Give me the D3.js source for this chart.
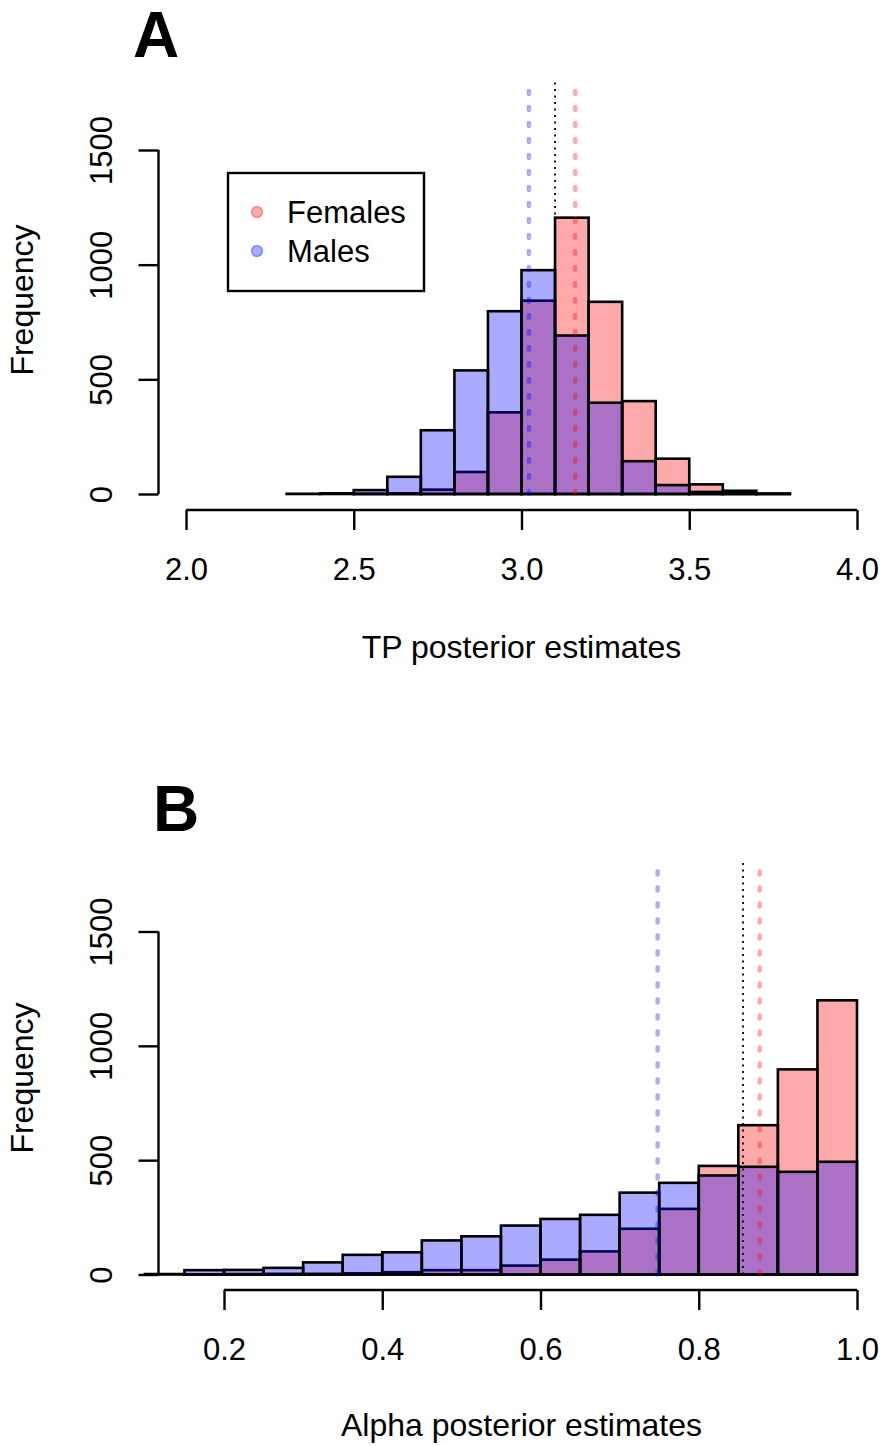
<!DOCTYPE html>
<html>
<head>
<meta charset="utf-8">
<script src="https://cdn.jsdelivr.net/npm/d3@7"></script>
<style>
  body { margin: 0; background: #fff; }
  svg { display: block; }
  text { font-family: "Liberation Sans", Arial, Helvetica, sans-serif; fill: #000; }
</style>
</head>
<body>
<div class="chart"></div>
<script>
// bin edges and counts
var tpBreaks = [2.3, 2.4, 2.5, 2.6, 2.7, 2.8, 2.9, 3.0, 3.1, 3.2, 3.3, 3.4, 3.5, 3.6, 3.7, 3.8];
var tpFemales = [0, 0, 1, 3, 19, 96, 356, 843, 1205, 838, 405, 154, 42, 14, 2];
var tpMales = [1, 3, 17, 75, 278, 539, 797, 976, 691, 398, 143, 39, 9, 3, 1];
var tpTicks = [2.0, 2.5, 3.0, 3.5, 4.0];
var tpMeans = { males: 3.022, all: 3.10, females: 3.16 };

var alphaBreaks = [0.10, 0.15, 0.20, 0.25, 0.30, 0.35, 0.40, 0.45, 0.50, 0.55, 0.60, 0.65, 0.70, 0.75, 0.80, 0.85, 0.90, 0.95, 1.00];
var alphaFemales = [0, 1, 2, 3, 3, 5, 10, 19, 19, 39, 65, 101, 200, 287, 475, 653, 897, 1199];
var alphaMales = [2, 19, 20, 29, 53, 86, 97, 149, 167, 214, 243, 261, 358, 401, 433, 471, 449, 493];
var alphaTicks = [0.2, 0.4, 0.6, 0.8, 1.0];
var alphaMeans = { males: 0.748, all: 0.856, females: 0.877 };

var freqTicks = [0, 500, 1000, 1500];
var lineTop = 1800;

var red = "rgba(255,0,0,0.333)";
var blue = "rgba(0,0,255,0.333)";

var svg = d3.select(".chart").append("svg")
  .attr("width", 883)
  .attr("height", 1446);

function drawPanel(p) {
  var x = d3.scaleLinear().domain(p.xDomain).range(p.xRange);
  var y = d3.scaleLinear().domain([0, 1500]).range(p.yRange);
  var g = svg.append("g");

  // panel letter
  g.append("text")
    .attr("x", p.letterX).attr("y", p.letterY)
    .style("font-size", "64px").style("font-weight", "bold")
    .text(p.letter);

  // females first, males drawn over them
  [[p.females, red], [p.males, blue]].forEach(function(s) {
    g.append("g").selectAll("rect")
      .data(s[0])
      .enter().append("rect")
      .attr("x", function(d, i) { return x(p.breaks[i]); })
      .attr("width", function(d, i) { return x(p.breaks[i + 1]) - x(p.breaks[i]); })
      .attr("y", function(d) { return y(d); })
      .attr("height", function(d) { return y(0) - y(d); })
      .attr("fill", s[1])
      .attr("stroke", "#000")
      .attr("stroke-width", 2.6);
  });

  // mean lines
  var lines = [
    { v: p.means.males, col: blue, w: 4.5, dash: "3,13", cap: "round" },
    { v: p.means.all, col: "#000", w: 1.8, dash: "2,4.5", cap: "butt" },
    { v: p.means.females, col: red, w: 4.5, dash: "3,13", cap: "round" }
  ];
  g.selectAll(".mean")
    .data(lines)
    .enter().append("path")
    .attr("class", "mean")
    .attr("d", function(d) { return "M" + x(d.v) + "," + y(0) + "V" + y(lineTop); })
    .attr("stroke", function(d) { return d.col; })
    .attr("stroke-width", function(d) { return d.w; })
    .attr("stroke-dasharray", function(d) { return d.dash; })
    .attr("stroke-linecap", function(d) { return d.cap; })
    .attr("fill", "none");

  // x axis
  var xa = g.append("g")
    .attr("transform", "translate(0," + p.axisY + ")")
    .call(d3.axisBottom(x).tickValues(p.ticks).tickSize(20).tickSizeOuter(0).tickPadding(28)
      .tickFormat(d3.format(".1f")));
  xa.select(".domain").attr("stroke-width", 2.4);
  xa.selectAll(".tick line").attr("stroke-width", 2.4);
  xa.selectAll(".tick text").style("font-size", "31px").attr("dy", "0.71em");
  xa.select(".domain").attr("d", "M" + x(p.ticks[0]) + ",0H" + x(p.ticks[p.ticks.length - 1]));

  // y axis with R-style rotated labels
  var ya = g.append("g")
    .attr("transform", "translate(158.5,0)")
    .call(d3.axisLeft(y).tickValues(freqTicks).tickSize(20).tickSizeOuter(0)
      .tickFormat(d3.format("d")));
  ya.select(".domain").attr("stroke-width", 2.4)
    .attr("d", "M0," + y(0) + "V" + y(1500));
  ya.selectAll(".tick line").attr("stroke-width", 2.4);
  ya.selectAll(".tick text")
    .attr("x", 0).attr("dy", null)
    .attr("transform", "translate(-46.5,0) rotate(-90)")
    .attr("text-anchor", "middle")
    .style("font-size", "31px");

  g.append("text")
    .attr("x", 521.5).attr("y", p.xTitleY)
    .attr("text-anchor", "middle")
    .style("font-size", "32px")
    .text(p.xTitle);

  g.append("text")
    .attr("transform", "translate(33," + p.yTitleY + ") rotate(-90)")
    .attr("text-anchor", "middle")
    .style("font-size", "32px")
    .text("Frequency");
}

drawPanel({
  letter: "A", letterX: 133, letterY: 57,
  breaks: tpBreaks, females: tpFemales, males: tpMales, means: tpMeans,
  xDomain: [2, 4], xRange: [186, 857], yRange: [494, 150],
  ticks: tpTicks, axisY: 510, xTitleY: 658, yTitleY: 300,
  xTitle: "TP posterior estimates"
});

drawPanel({
  letter: "B", letterX: 153, letterY: 831,
  breaks: alphaBreaks, females: alphaFemales, males: alphaMales, means: alphaMeans,
  xDomain: [0.2, 1.0], xRange: [224, 857], yRange: [1274.5, 931.5],
  ticks: alphaTicks, axisY: 1290, xTitleY: 1436, yTitleY: 1078,
  xTitle: "Alpha posterior estimates"
});

// legend in panel A
var legend = svg.append("g");
legend.append("rect")
  .attr("x", 228).attr("y", 173).attr("width", 196).attr("height", 118)
  .attr("fill", "#fff").attr("stroke", "#000").attr("stroke-width", 2.4);
var legendItems = [{ name: "Females", col: red }, { name: "Males", col: blue }];
legend.selectAll(".item")
  .data(legendItems)
  .enter().append("g")
  .attr("class", "item")
  .attr("transform", function(d, i) { return "translate(0," + (212 + i * 39) + ")"; })
  .each(function(d) {
    var it = d3.select(this);
    it.append("circle").attr("cx", 257).attr("cy", 0).attr("r", 5.5)
      .attr("fill", d.col).attr("stroke", d.col).attr("stroke-width", 1.5);
    it.append("text").attr("x", 287).attr("y", 11)
      .style("font-size", "31px").text(d.name);
  });
</script>
</body>
</html>
